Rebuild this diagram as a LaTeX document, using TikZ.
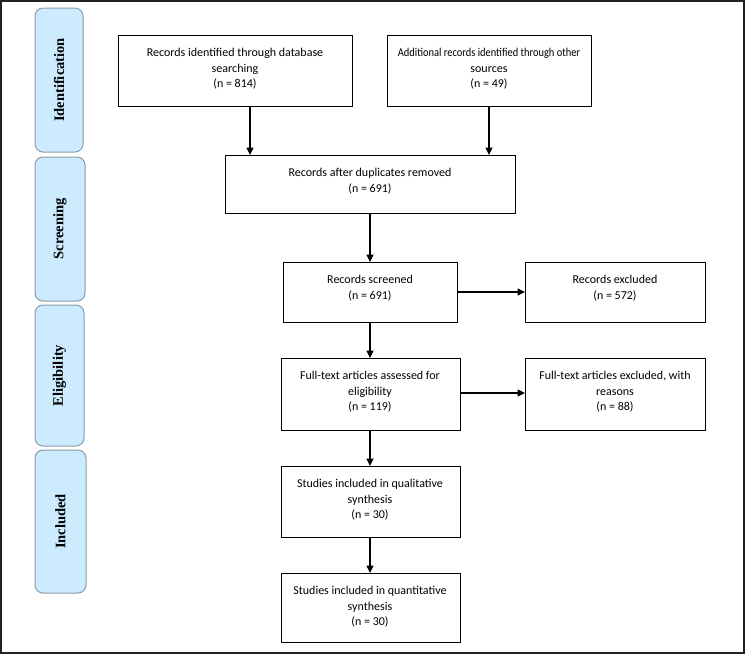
\documentclass[tikz,border=0pt]{standalone}
\usepackage{fontspec}
\usepackage{graphicx}
\setmainfont{Carlito}
\newfontfamily\phasefont{Liberation Serif}
\usetikzlibrary{arrows.meta}
\definecolor{phasefill}{HTML}{CCEBFF}
\definecolor{phasedraw}{HTML}{8A9AA8}
\definecolor{framecol}{HTML}{222222}
\tikzset{
  x=1pt,y=-1pt,
  flowbox/.style={align=center,
    font=\fontsize{12}{15.5}\selectfont,inner sep=2pt},
  boxline/.style={draw=black,line width=0.9pt},
  phase/.style={draw=phasedraw,fill=phasefill,line width=1pt,rounded corners=8pt},
  phasetext/.style={rotate=90,font=\phasefont\bfseries\fontsize{14.5}{15}\selectfont},
  flowarrow/.style={draw=black,line width=1.1pt,-{Triangle[length=7.5pt,width=7pt]}}
}
\begin{document}
\begin{tikzpicture}
\useasboundingbox (0,0) rectangle (745,654);
\draw[framecol,line width=2pt] (1,1) rectangle (744,653);
% phase labels
\path[phase] (35,8) rectangle (83,152);
\node[phasetext] (pid) at (59,80) {Identification};
\path[phase] (35,157) rectangle (85,301);
\node[phasetext] (psc) at (60,229) {Screening};
\path[phase] (35,305) rectangle (84,446);
\node[phasetext] (pel) at (59.5,375.5) {Eligibility};
\path[phase] (35,450) rectangle (86,593);
\node[phasetext] (pin) at (60.5,521.5) {Included};
% boxes
\draw[boxline] (118,35) rectangle (352,106);
\node[flowbox] (b1) at (235,69) {Records identified through database\\searching\\(n = 814)};
\draw[boxline] (387,35) rectangle (591,106);
\node[flowbox] (b2) at (489,69) {\scalebox{0.87}[1]{Additional records identified through other}\\sources\\(n = 49)};
\draw[boxline] (225,155) rectangle (515,213);
\node[flowbox] (b3) at (370,181) {Records after duplicates removed\\(n = 691)};
\draw[boxline] (283,262) rectangle (457,322);
\node[flowbox] (b4) at (370,288) {Records screened\\(n = 691)};
\draw[boxline] (525,262) rectangle (705,322);
\node[flowbox] (b5) at (615,288) {Records excluded\\(n = 572)};
\draw[boxline] (281,358) rectangle (460,430);
\node[flowbox] (b6) at (370,392) {Full-text articles assessed for\\eligibility\\(n = 119)};
\draw[boxline] (525,358) rectangle (705,430);
\node[flowbox] (b7) at (615,392) {Full-text articles excluded, with\\reasons\\(n = 88)};
\draw[boxline] (281,466) rectangle (460,537);
\node[flowbox] (b8) at (370,500) {Studies included in qualitative\\synthesis\\(n = 30)};
\draw[boxline] (281,573) rectangle (460,642);
\node[flowbox] (b9) at (370,607) {Studies included in quantitative\\synthesis\\(n = 30)};
% connector anchors
\coordinate (b1s) at (250,106);
\coordinate (b3nl) at (250,155);
\coordinate (b2s) at (489,106);
\coordinate (b3nr) at (489,155);
\coordinate (b3s) at (370,213);
\coordinate (b4n) at (370,262);
\coordinate (b4e) at (457,292);
\coordinate (b5w) at (525,292);
\coordinate (b4s) at (370,322);
\coordinate (b6n) at (370,358);
\coordinate (b6e) at (460,393);
\coordinate (b7w) at (525,393);
\coordinate (b6s) at (370,430);
\coordinate (b8n) at (370,466);
\coordinate (b8s) at (370,537);
\coordinate (b9n) at (370,573);
\draw[flowarrow] (b1s) -- (b3nl);
\draw[flowarrow] (b2s) -- (b3nr);
\draw[flowarrow] (b3s) -- (b4n);
\draw[flowarrow] (b4e) -- (b5w);
\draw[flowarrow] (b4s) -- (b6n);
\draw[flowarrow] (b6e) -- (b7w);
\draw[flowarrow] (b6s) -- (b8n);
\draw[flowarrow] (b8s) -- (b9n);
\end{tikzpicture}
\end{document}
